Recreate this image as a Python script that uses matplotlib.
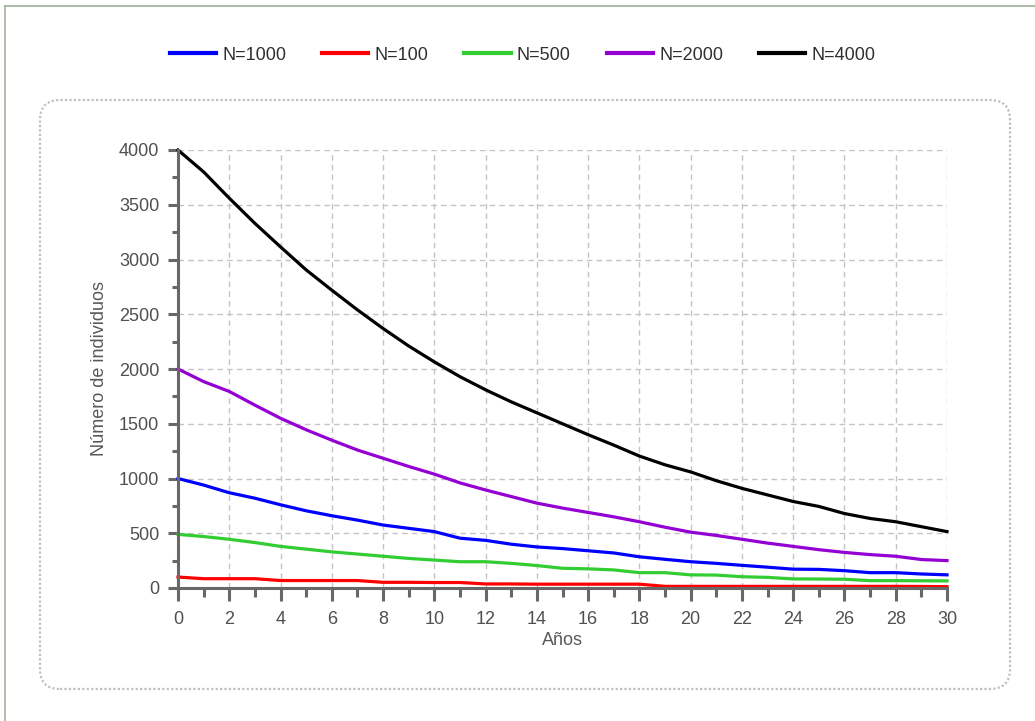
import matplotlib
matplotlib.use("Agg")
import matplotlib.pyplot as plt
from matplotlib.patches import FancyBboxPatch
from matplotlib.lines import Line2D
from matplotlib.ticker import MultipleLocator

plt.rcParams['font.family'] = ['Liberation Sans', 'DejaVu Sans']

years = list(range(0, 31))

n1000 = [1000, 940, 870, 820, 760, 705, 660, 620, 575, 545, 515, 455, 435, 400, 375, 360,
         340, 320, 285, 262, 240, 225, 207, 190, 172, 170, 158, 140, 140, 128, 120]
n100 = [100, 85, 85, 85, 68, 68, 68, 68, 52, 52, 50, 50, 37, 37, 35, 35,
        35, 35, 35, 15, 15, 15, 15, 15, 15, 15, 15, 15, 15, 14, 12]
n500 = [490, 470, 445, 415, 380, 355, 330, 310, 290, 270, 255, 240, 240, 225, 205, 180,
        175, 165, 140, 140, 120, 118, 103, 97, 83, 82, 80, 67, 67, 66, 65]
n2000 = [2000, 1885, 1795, 1670, 1550, 1445, 1350, 1260, 1185, 1110, 1040, 960, 895, 835, 775, 730,
         690, 650, 605, 555, 510, 480, 445, 410, 380, 350, 325, 305, 290, 260, 250]
n4000 = [4000, 3800, 3560, 3330, 3115, 2905, 2720, 2540, 2370, 2210, 2065, 1930, 1810, 1700, 1600, 1500,
         1400, 1305, 1205, 1125, 1060, 980, 910, 850, 790, 745, 680, 635, 605, 560, 515]

labels = ["N=1000", "N=100", "N=500", "N=2000", "N=4000"]
colors = ["#0000ff", "#ff0000", "#32cd32", "#9400d3", "#000000"]
series = [n1000, n100, n500, n2000, n4000]

fig = plt.figure(figsize=(10.35, 7.21), dpi=100)

# rounded panel behind the chart area (inches)
panel = FancyBboxPatch((0.40, 0.32), 9.70, 5.89,
                       boxstyle="round,pad=0,rounding_size=0.2",
                       transform=fig.dpi_scale_trans, facecolor="white",
                       edgecolor="#c4bcc4", linewidth=1.6, linestyle=(0, (1, 1)),
                       zorder=-5)
fig.patches.append(panel)

# outer frame lines (left and top)
fig.lines.append(Line2D([5 / 1035, 5 / 1035], [0, 1 - 6 / 721], transform=fig.transFigure,
                        color="#a8b0a0", linewidth=1.2))
fig.lines.append(Line2D([5 / 1035, 1], [1 - 6 / 721, 1 - 6 / 721], transform=fig.transFigure,
                        color="#a0ae98", linewidth=1.2))

ax = fig.add_axes([178 / 1035, 1 - 588 / 721, 769 / 1035, 438 / 721])
ax.set_facecolor("none")
ax.set_zorder(5)

for vals, lab, col in zip(series, labels, colors):
    ax.plot(years, vals, color=col, linewidth=2.3, label=lab, clip_on=False, zorder=3)

ax.set_xlim(0, 30)
ax.set_ylim(0, 4000)
ax.xaxis.set_major_locator(MultipleLocator(2))
ax.xaxis.set_minor_locator(MultipleLocator(1))
ax.yaxis.set_major_locator(MultipleLocator(500))
ax.yaxis.set_minor_locator(MultipleLocator(250))

ax.grid(True, which="major", color="#c8c2c8", linestyle=(0, (4, 3)), linewidth=1.0, zorder=1)

for s in ["top", "right"]:
    ax.spines[s].set_visible(False)
for s in ["left", "bottom"]:
    ax.spines[s].set_color("#686868")
    ax.spines[s].set_linewidth(2.2)
    ax.spines[s].set_zorder(4)

ax.tick_params(axis="x", which="major", length=9.5, width=2.2, color="#686868",
               labelsize=13, labelcolor="#505050", pad=7)
ax.tick_params(axis="x", which="minor", length=6.5, width=2.2, color="#686868")
ax.tick_params(axis="y", which="major", length=7.5, width=2.2, color="#686868",
               labelsize=13, labelcolor="#505050", pad=6)
ax.tick_params(axis="y", which="minor", length=4.5, width=2.2, color="#686868")

ax.set_xlabel("Años", fontsize=13, color="#585858", labelpad=3)
ax.set_ylabel("Número de individuos", fontsize=13, color="#585858", labelpad=8)

fig.legend(loc="center", bbox_to_anchor=(0.505, 1 - 55 / 721), ncol=5, frameon=False,
           fontsize=13, handlelength=2.55, handletextpad=0.35, columnspacing=2.0,
           labelcolor="#303030")
for h in fig.legends[0].get_lines():
    h.set_linewidth(3.0)

fig.savefig("out.png", dpi=100)
